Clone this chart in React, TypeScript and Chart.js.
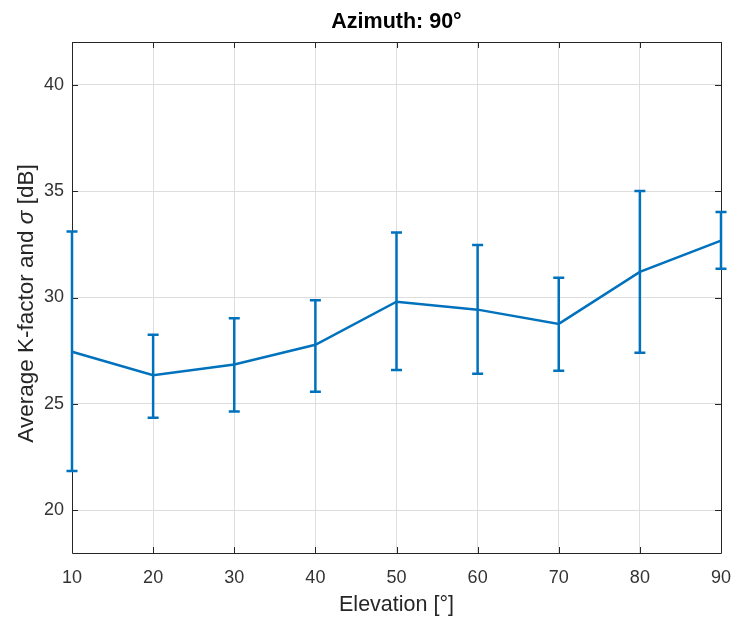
import React, { useEffect, useRef } from "react";
import { Chart, registerables } from "chart.js";

Chart.register(...registerables);

// ---- data ----
const elevations = [10, 20, 30, 40, 50, 60, 70, 80, 90];
const meanK = [27.45, 26.35, 26.85, 27.78, 29.8, 29.43, 28.76, 31.2, 32.67];
const upperK = [33.1, 28.25, 29.02, 29.87, 33.05, 32.47, 30.93, 35.0, 34.02];
const lowerK = [21.85, 24.35, 24.65, 25.57, 26.6, 26.42, 26.56, 27.4, 31.35];
const xTicks = [10, 20, 30, 40, 50, 60, 70, 80, 90];
const yTicks = [20, 25, 30, 35, 40];

const titleText = "Azimuth: 90°";
const xTitle = "Elevation [°]";
const yTitleMain = "Average K-factor and";
const yTitleSymbol = "σ";
const yTitleUnit = "[dB]";

const BLUE = "#0072BD";
const AXIS = "#262626";
const GRID = "#dedede";
const FONT = "'Liberation Sans', Arial, Helvetica, sans-serif";

const frameAndTicks = {
  id: "frameAndTicks",
  beforeDatasetsDraw(chart: any) {
    const { ctx, chartArea, scales } = chart;
    const { left, right, top, bottom } = chartArea;
    const tl = 6;
    ctx.save();
    ctx.strokeStyle = AXIS;
    ctx.lineWidth = 1;
    ctx.beginPath();
    ctx.rect(Math.round(left) + 0.5, Math.round(top) + 0.5, Math.round(right - left), Math.round(bottom - top));
    ctx.stroke();
    ctx.beginPath();
    xTicks.forEach((v) => {
      const px = Math.round(scales.x.getPixelForValue(v)) + 0.5;
      ctx.moveTo(px, bottom);
      ctx.lineTo(px, bottom - tl);
      ctx.moveTo(px, top);
      ctx.lineTo(px, top + tl);
    });
    yTicks.forEach((v) => {
      const py = Math.round(scales.y.getPixelForValue(v)) + 0.5;
      ctx.moveTo(left, py);
      ctx.lineTo(left + tl, py);
      ctx.moveTo(right, py);
      ctx.lineTo(right - tl, py);
    });
    ctx.stroke();
    ctx.restore();
  },
};

const errorBars = {
  id: "errorBars",
  afterDatasetsDraw(chart: any) {
    const { ctx, scales } = chart;
    const cap = 5.5;
    ctx.save();
    ctx.strokeStyle = BLUE;
    ctx.lineWidth = 2.5;
    ctx.beginPath();
    elevations.forEach((e, i) => {
      const px = scales.x.getPixelForValue(e);
      const pt = scales.y.getPixelForValue(upperK[i]);
      const pb = scales.y.getPixelForValue(lowerK[i]);
      ctx.moveTo(px, pt);
      ctx.lineTo(px, pb);
      ctx.moveTo(px - cap, pt);
      ctx.lineTo(px + cap, pt);
      ctx.moveTo(px - cap, pb);
      ctx.lineTo(px + cap, pb);
    });
    ctx.stroke();
    ctx.restore();
  },
};

// y-axis title with an italic sigma (as in the TeX-rendered original)
const yTitlePlugin = {
  id: "yTitle",
  afterDraw(chart: any) {
    const { ctx, chartArea } = chart;
    const size = 22.5;
    const normal = `${size}px ${FONT}`;
    const italic = `italic ${size}px ${FONT}`;
    const segs = [
      { t: yTitleMain + " ", f: normal },
      { t: yTitleSymbol, f: italic },
      { t: " " + yTitleUnit, f: normal },
    ];
    ctx.save();
    let total = 0;
    const widths = segs.map((s) => {
      ctx.font = s.f;
      const w = ctx.measureText(s.t).width;
      total += w;
      return w;
    });
    const cy = (chartArea.top + chartArea.bottom) / 2 + 6;
    ctx.translate(33, cy);
    ctx.rotate(-Math.PI / 2);
    ctx.fillStyle = AXIS;
    ctx.textBaseline = "alphabetic";
    ctx.textAlign = "left";
    let x = -total / 2;
    segs.forEach((s, i) => {
      ctx.font = s.f;
      ctx.fillText(s.t, x, 0);
      x += widths[i];
    });
    ctx.restore();
  },
};

export default function App() {
  const ref = useRef<HTMLCanvasElement | null>(null);

  useEffect(() => {
    if (!ref.current) return;
    const chart = new Chart(ref.current, {
      type: "line",
      data: {
        datasets: [
          {
            data: elevations.map((e, i) => ({ x: e, y: meanK[i] })),
            borderColor: BLUE,
            backgroundColor: BLUE,
            borderWidth: 2.5,
            pointRadius: 0,
            tension: 0,
            clip: false as any,
          },
        ],
      },
      options: {
        animation: false,
        responsive: false,
        devicePixelRatio: 1,
        layout: { padding: { top: 0, right: 13, bottom: 0, left: 0 } },
        plugins: {
          legend: { display: false },
          tooltip: { enabled: false },
          title: {
            display: true,
            text: titleText,
            fullSize: false,
            color: "#000",
            font: { family: FONT, size: 21.5, weight: "bold", lineHeight: "22px" },
            padding: { top: 11, bottom: 9 },
          },
        },
        scales: {
          x: {
            type: "linear",
            min: 10,
            max: 90,
            afterBuildTicks: (s: any) => {
              s.ticks = xTicks.map((v) => ({ value: v }));
            },
            afterFit: (s: any) => {
              s.height = 64;
              s.paddingLeft = 0;
              s.paddingRight = 0;
            },
            grid: { color: GRID, drawTicks: false, lineWidth: 1 },
            border: { display: false },
            ticks: {
              padding: 14,
              color: "#333",
              maxRotation: 0,
              autoSkip: false,
              font: { family: FONT, size: 18 },
            },
            title: {
              display: true,
              text: xTitle,
              color: AXIS,
              font: { family: FONT, size: 21.5, lineHeight: 1 },
              padding: { top: 0, bottom: 1 },
            },
          },
          y: {
            type: "linear",
            min: 18,
            max: 42,
            afterBuildTicks: (s: any) => {
              s.ticks = yTicks.map((v) => ({ value: v }));
            },
            afterFit: (s: any) => {
              s.width = 72;
              s.paddingTop = 0;
              s.paddingBottom = 0;
            },
            grid: { color: GRID, drawTicks: false, lineWidth: 1 },
            border: { display: false },
            ticks: {
              padding: 8,
              color: "#333",
              autoSkip: false,
              font: { family: FONT, size: 18 },
            },
            title: { display: false },
          },
        },
      },
      plugins: [frameAndTicks, errorBars, yTitlePlugin],
    });
    return () => chart.destroy();
  }, []);

  return (
    <div style={{ position: "fixed", left: 0, top: 0, width: 734, height: 617, background: "#fff" }}>
      <canvas ref={ref} width={734} height={617} />
    </div>
  );
}
